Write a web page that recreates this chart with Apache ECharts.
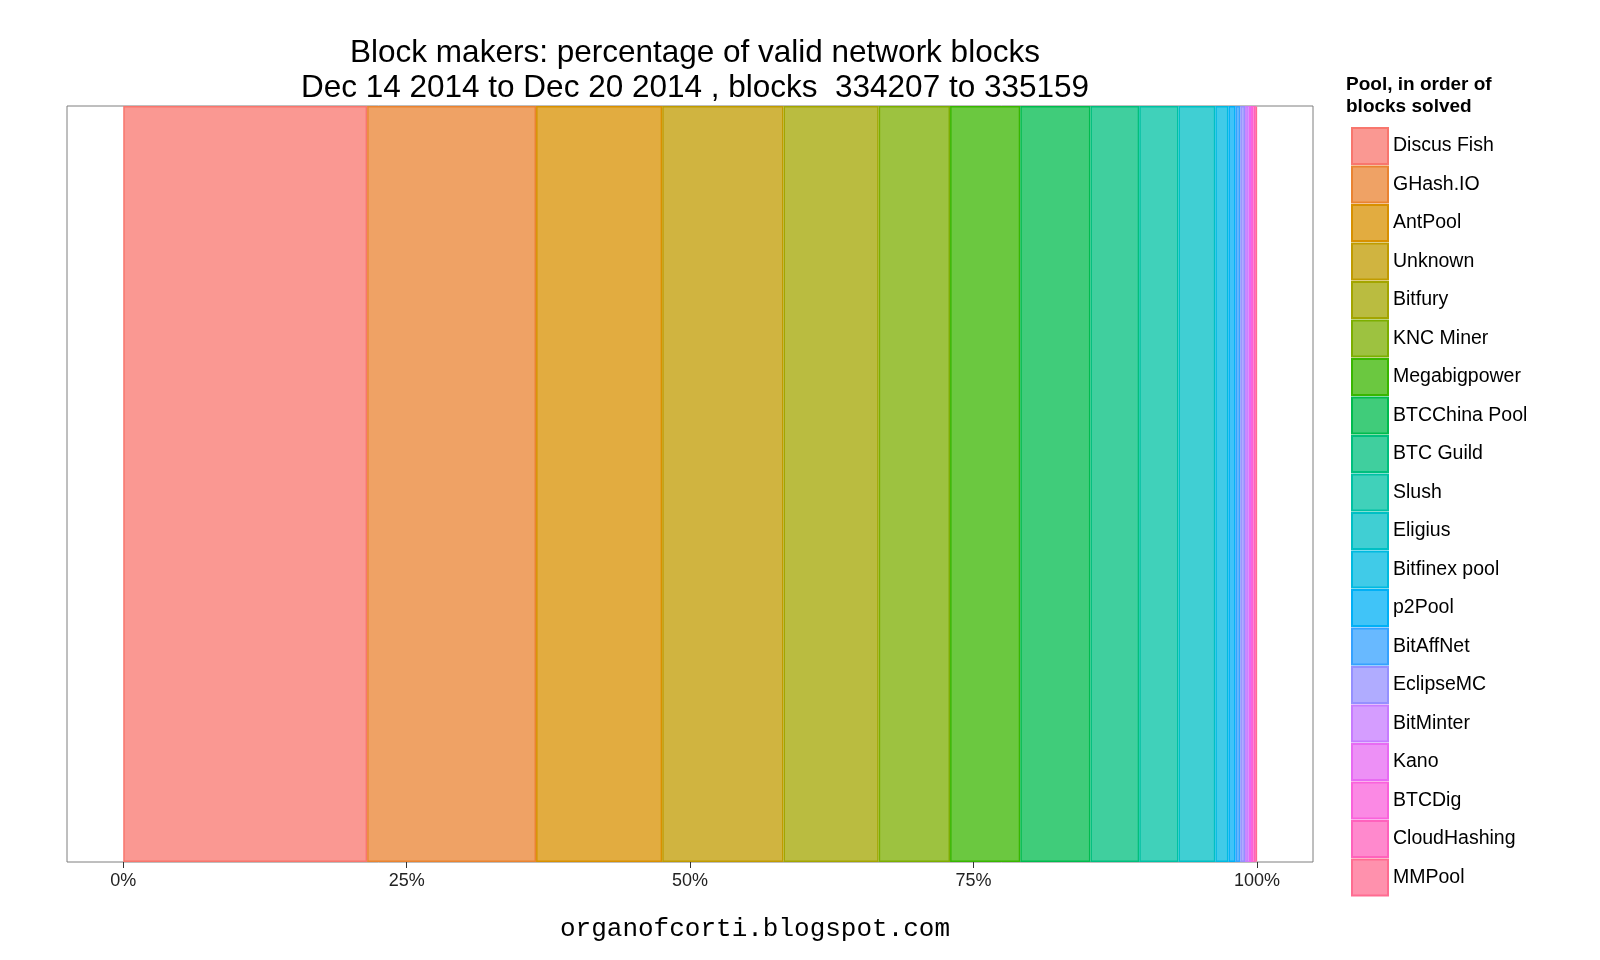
<!DOCTYPE html>
<html><head><meta charset="utf-8">
<script src="https://cdn.jsdelivr.net/npm/echarts@6/dist/echarts.min.js"></script>
<style>html,body{margin:0;background:#fff}#c{width:1600px;height:960px}</style>
</head><body><div id="c"></div>
<script>
const pools = ["Discus Fish","GHash.IO","AntPool","Unknown","Bitfury","KNC Miner","Megabigpower","BTCChina Pool","BTC Guild","Slush","Eligius","Bitfinex pool","p2Pool","BitAffNet","EclipseMC","BitMinter","Kano","BTCDig","CloudHashing","MMPool"];
const blocks = [205,142,106,102,80,60,59,59,41,33,31,11,6,4,4,3,2,2,2,1];
const colors = ["#F8766D","#EA8331","#D89000","#C09B00","#A3A500","#7CAE00","#39B600","#00BB4E","#00BF7D","#00C1A3","#00BFC4","#00BAE0","#00B0F6","#35A2FF","#9590FF","#C77CFF","#E76BF3","#FA62DB","#FF62BC","#FF6C91"];
const tickValues = [0,0.25,0.5,0.75,1];
const total = blocks.reduce((a,b)=>a+b,0);
function hexA(h,a){const n=parseInt(h.slice(1),16);return `rgba(${n>>16},${(n>>8)&255},${n&255},${a})`;}
const chart = echarts.init(document.getElementById('c'));
chart.setOption({
  animation:false,
  title:{text:"Block makers: percentage of valid network blocks\nDec 14 2014 to Dec 20 2014 , blocks  334207 to 335159",left:690,top:31,textAlign:'center',
    textStyle:{fontSize:31.5,fontWeight:'normal',color:'#000',fontFamily:'Liberation Sans, Arial',lineHeight:35}},
  grid:{left:67,right:287,top:106,bottom:98,show:true,borderColor:'#7f7f7f',borderWidth:1,backgroundColor:'#fff'},
  xAxis:{type:'value',min:-0.0496,max:1.0494,
    axisLine:{show:false},splitLine:{show:false},
    axisTick:{show:true,length:6,lineStyle:{color:'#333'},customValues:tickValues},
    axisLabel:{customValues:tickValues,formatter:v=>Math.round(v*100)+'%',fontSize:18,color:'#222',margin:10,fontFamily:'Liberation Sans, Arial'}},
  yAxis:{type:'category',data:['b'],show:false},
  legend:{orient:'vertical',left:1346,top:122,itemWidth:36,itemHeight:36,itemGap:0.5,icon:'rect',
    data:pools,textStyle:{fontSize:19.5,color:'#000',fontFamily:'Liberation Sans, Arial'}},
  graphic:[
    {type:'text',left:1346,top:74,style:{text:'Pool, in order of\nblocks solved',font:'bold 19px Liberation Sans, Arial',fill:'#000',lineHeight:22}},
    {type:'text',left:560,top:916,style:{text:'organofcorti.blogspot.com',font:'26px Liberation Mono, DejaVu Sans Mono, monospace',fill:'#000'}}
  ],
  series:pools.map((p,i)=>({name:p,type:'bar',stack:'s',barWidth:'100%',
    data:[blocks[i]/total],
    itemStyle:{color:hexA(colors[i],0.75),borderColor:colors[i],borderWidth:1.5}}))
});
</script></body></html>
